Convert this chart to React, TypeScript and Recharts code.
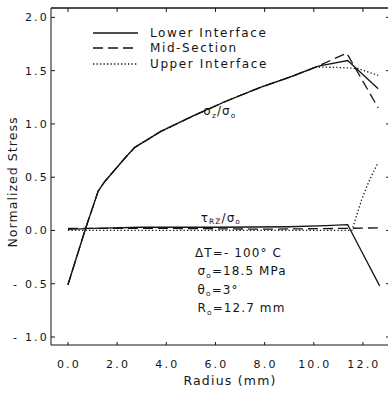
import React from 'react';
import { LineChart, Line, XAxis, YAxis, ReferenceDot, ReferenceLine, Legend } from 'recharts';

const radiusTicks = [0, 2, 4, 6, 8, 10, 12];
const stressTicks = [-1, -0.5, 0, 0.5, 1, 1.5, 2];

// sigma_z / sigma_o  [radius (mm), normalized stress]
const sigmaShared = [
  [0, -0.51], [0.69, 0.0], [1.23, 0.37], [1.5, 0.46], [2.32, 0.68], [2.72, 0.78],
  [3.78, 0.93], [5.09, 1.075], [6.45, 1.215], [7.8, 1.34], [9.16, 1.45], [10.1, 1.535],
];
const sigmaLowerTail = [[10.24, 1.545], [11.38, 1.595], [12.62, 1.33]];
const sigmaMidTail = [[11.34, 1.665], [12.62, 1.15]];
const sigmaUpperTail = [[11.0, 1.53], [11.8, 1.52], [12.62, 1.455]];

// tau_rz / sigma_o
const tauLower = [
  [0, 0.01], [1, 0.02], [3, 0.03], [6, 0.03], [9, 0.035], [10.5, 0.045],
  [11.38, 0.055], [11.75, -0.11], [12.68, -0.52],
];
const tauMid = [[0, 0.02], [4, 0.02], [8, 0.012], [11.4, 0.02], [12.62, 0.025]];
const tauUpper = [
  [0, 0.0], [4, 0.0], [8, 0.0], [11.0, 0.0], [11.55, 0.0],
  [11.95, 0.29], [12.28, 0.48], [12.62, 0.64],
];

const seriesNames = ['Lower Interface', 'Mid-Section', 'Upper Interface'];
const annotationLines = ['ΔT=- 100° C', 'σ|o|=18.5 MPa', 'θ|o|=3°', 'R|o|=12.7 mm'];

const toPts = (arr: number[][]) => arr.map(([r, v]) => ({ r, v }));

const sigmaLower = toPts([...sigmaShared, ...sigmaLowerTail]);
const sigmaMid = toPts([...sigmaShared, ...sigmaMidTail]);
const sigmaUpper = toPts([...sigmaShared, ...sigmaUpperTail]);

const INK = '#151515';
const FONT = '"DejaVu Sans", sans-serif';
const dashFor = ['', '10 5', '1.3 2.2'];
// frame runs a pixel past the right edge of the picture, as in the scan
const X_DOMAIN = [-0.69, 13.06];
const Y_DOMAIN = [-1.075, 2.088];

const fmt = (v: number) => (v < 0 ? '- ' + Math.abs(v).toFixed(1) : v.toFixed(1));

// "σ|o|=18.5" -> σ, subscript o, then rest
const SubText = ({ x, y, text, size = 12 }: any) => {
  const parts = text.split('|');
  return (
    <text x={x} y={y} fontFamily={FONT} fontSize={size} fill={INK} letterSpacing={1.1}>
      {parts.map((p: string, i: number) =>
        i % 2 === 1 ? (
          <tspan key={i} fontSize={size * 0.62} dy={2.5}>{p}</tspan>
        ) : (
          <tspan key={i} dy={i > 0 ? -2.5 : 0}>{p}</tspan>
        )
      )}
    </text>
  );
};

const LegendBox = () => (
  <div style={{ fontFamily: FONT, fontSize: 12, color: INK, letterSpacing: 1.6 }}>
    {seriesNames.map((name, i) => (
      <div key={name} style={{ display: 'flex', alignItems: 'center', height: 15.5 }}>
        <svg width={57} height={10}>
          <line x1={0} y1={5} x2={45} y2={5} stroke={INK} strokeWidth={1.3} strokeDasharray={dashFor[i] || undefined} />
        </svg>
        <span>{name}</span>
      </div>
    ))}
  </div>
);

export default function App() {
  const line = (key: string, data: any[], i: number, xId: any = 0, yId: any = 0) => (
    <Line
      key={key}
      data={data}
      dataKey="v"
      xAxisId={xId}
      yAxisId={yId}
      type="linear"
      stroke={INK}
      strokeWidth={1.3}
      strokeDasharray={dashFor[i] || undefined}
      dot={false}
      activeDot={false}
      isAnimationActive={false}
      legendType="none"
    />
  );

  const tickStyle = { fill: INK, fontSize: 11, fontFamily: FONT, letterSpacing: 2.2 };

  return (
    <div style={{ position: 'absolute', left: 0, top: 0, background: '#fff', overflow: 'hidden', width: 388, height: 394 }}>
      <LineChart width={388} height={394} margin={{ top: 2, right: -2, bottom: 19, left: 8 }}>
        <XAxis
          dataKey="r"
          type="number"
          domain={X_DOMAIN}
          ticks={radiusTicks}
          allowDataOverflow
          tickFormatter={fmt}
          height={30}
          stroke={INK}
          tickSize={-3}
          tickMargin={18}
          tick={{ ...tickStyle, dx: 1 }}
          label={({ viewBox }: any) => (
            <text
              x={viewBox.x + viewBox.width / 2 + 10}
              y={viewBox.y + 40}
              textAnchor="middle"
              fontFamily={FONT}
              fontSize={12.5}
              letterSpacing={1.2}
              fill={INK}
            >
              Radius (mm)
            </text>
          )}
        />
        <XAxis
          xAxisId="top"
          dataKey="r"
          orientation="top"
          type="number"
          domain={X_DOMAIN}
          ticks={radiusTicks}
          allowDataOverflow
          height={6}
          tickFormatter={() => ''}
          tickSize={-4}
          stroke={INK}
        />
        <YAxis
          type="number"
          domain={Y_DOMAIN}
          ticks={stressTicks}
          allowDataOverflow
          tickFormatter={fmt}
          width={43}
          stroke={INK}
          tickSize={-4}
          tickMargin={6}
          tick={tickStyle}
          label={() => (
            <text
              x={13}
              y={182}
              transform="rotate(-90 13 182)"
              textAnchor="middle"
              dominantBaseline="middle"
              fontFamily={FONT}
              fontSize={12.5}
              letterSpacing={1.05}
              fill={INK}
            >
              Normalized Stress
            </text>
          )}
        />
        <YAxis
          yAxisId="right"
          orientation="right"
          type="number"
          domain={Y_DOMAIN}
          ticks={stressTicks}
          allowDataOverflow
          width={1}
          axisLine={{ stroke: 'transparent' }}
          tickLine={{ stroke: INK }}
          tickFormatter={() => ''}
          tickSize={-3}
          stroke={INK}
        />
        <ReferenceLine y={Y_DOMAIN[1]} stroke={INK} strokeWidth={1} />
        <Legend
          layout="vertical"
          align="center"
          verticalAlign="middle"
          content={() => <LegendBox />}
          wrapperStyle={{ left: 93, top: 25, width: 220 }}
        />
        {line('sl', sigmaLower, 0)}
        {line('sm', sigmaMid, 1)}
        {line('su', sigmaUpper, 2, 'top')}
        {line('tl', toPts(tauLower), 0)}
        {line('tm', toPts(tauMid), 1)}
        {line('tu', toPts(tauUpper), 2, 0, 'right')}
        <ReferenceDot
          x={5.5}
          y={1.12}
          r={0}
          label={({ viewBox }: any) => (
            <SubText x={viewBox.x} y={viewBox.y + 4} text={'σ|z|/σ|o|'} />
          )}
        />
        <ReferenceDot
          x={5.4}
          y={0.12}
          r={0}
          label={({ viewBox }: any) => (
            <SubText x={viewBox.x} y={viewBox.y + 4} text={'τ|RZ|/σ|o|'} />
          )}
        />
        <ReferenceDot
          x={5.17}
          y={-0.21}
          r={0}
          label={({ viewBox }: any) => (
            <g>
              {annotationLines.map((t, i) => (
                <SubText key={t} x={viewBox.x + (i === 0 ? 0 : 2.5)} y={viewBox.y + 4 + i * 18.5} text={t} />
              ))}
            </g>
          )}
        />
      </LineChart>
    </div>
  );
}
